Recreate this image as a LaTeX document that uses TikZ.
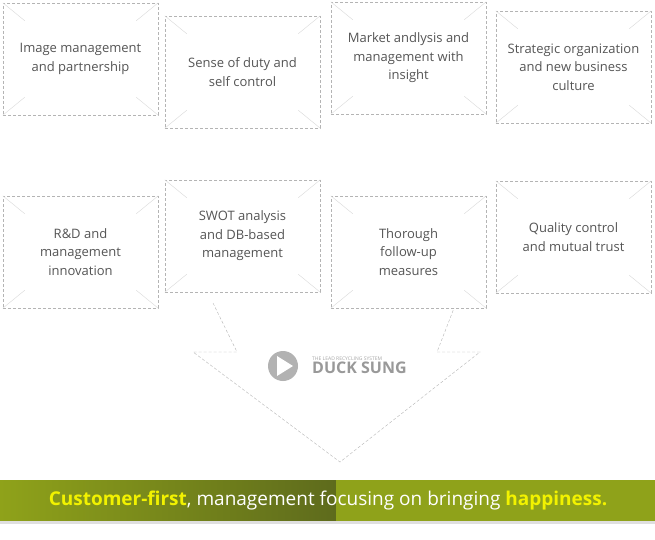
\documentclass[tikz,border=0pt]{standalone}
\usepackage{fontspec}
\setmainfont{Open Sans}
\usepackage{tikz}
\usetikzlibrary{positioning}
\definecolor{boxline}{HTML}{B4B4B4}
\definecolor{boxtext}{HTML}{555555}
\definecolor{bandgreen}{HTML}{8FA21A}
\definecolor{banddark}{HTML}{5E6B1C}
\definecolor{hiyellow}{HTML}{F2F200}
\tikzset{
  card/.style={draw=boxline, densely dashed, fill=white, minimum width=155pt,
    minimum height=112pt, align=center, text=boxtext,
    font=\fontsize{13}{18.5}\selectfont, inner sep=0pt},
  cross/.style={draw=boxline!50, thin}
}
\newcommand{\cardX}[1]{%
  \draw[cross] (#1.north west) -- ++(22pt,-18pt);
  \draw[cross] (#1.north east) -- ++(-22pt,-18pt);
  \draw[cross] (#1.south west) -- ++(22pt,18pt);
  \draw[cross] (#1.south east) -- ++(-22pt,18pt);}
\begin{document}
\begin{tikzpicture}[x=1pt,y=-1pt]
  \useasboundingbox (0,0) rectangle (655,540);
  % big arrow
  \draw[boxline, densely dashed, fill=white]
    (213,303) -- (237,352) -- (193,352) -- (340,462) -- (480,352)
    -- (437,352) -- (456,303);
  % cards, top row
  \node[card] (image)    at (80.5,59)   {Image management\\and partnership};
  \node[card] (duty)     at (242.5,72)  {Sense of duty and\\self control};
  \node[card] (market)   at (408.5,58)  {Market andlysis and\\management with\\insight};
  \node[card] (strategy) at (573.5,67)  {Strategic organization\\and new business\\culture};
  % cards, bottom row
  \node[card] (rnd)      at (80.5,252)  {R\&D and\\management\\innovation};
  \node[card] (swot)     at (242.5,236) {SWOT analysis\\and DB-based\\management};
  \node[card] (follow)   at (408.5,252) {Thorough\\follow-up\\measures};
  \node[card] (quality)  at (573.5,237) {Quality control\\and mutual trust};
  \foreach \c in {image,duty,market,strategy,rnd,swot,follow,quality}{\cardX{\c}}
  % logo
  \fill[gray!60] (283,366) circle (15);
  \fill[white] (277,356) -- (293,366) -- (277,376) -- cycle;
  \node[anchor=south west, inner sep=0pt, text=gray!70, font=\fontsize{5}{5}\selectfont]
    (tagline) at (312,361) {THE LEAD RECYCLING SYSTEM};
  \node[below=1pt of tagline.south west, anchor=north west, inner sep=0pt, text=gray!80,
    font=\fontsize{16}{16}\bfseries\selectfont] (brand) {DUCK SUNG};
  % band
  \shade[left color=bandgreen, right color=banddark] (0,480) rectangle (336,521);
  \fill[bandgreen] (336,480) rectangle (655,521);
  \fill[gray!25] (0,521) rectangle (655,524);
  \node[text=white, font=\fontsize{19}{22}\selectfont] (motto) at (328,500.5)
    {\textcolor{hiyellow}{\bfseries Customer-first}, management focusing on bringing \textcolor{hiyellow}{\bfseries happiness.}};
\end{tikzpicture}
\end{document}
